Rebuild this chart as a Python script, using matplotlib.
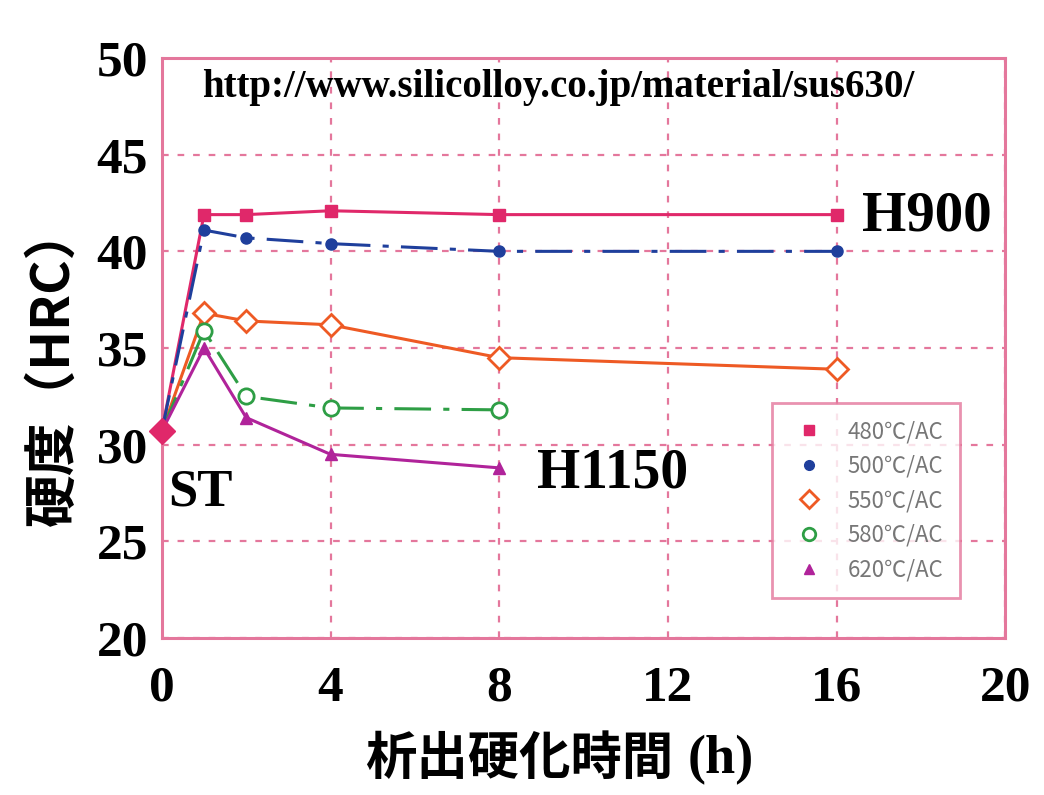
import matplotlib
matplotlib.use("Agg")
import matplotlib.pyplot as plt
from matplotlib.lines import Line2D

plt.rcParams['font.family'] = ['Liberation Serif', 'Noto Sans CJK JP', 'DejaVu Sans']

# Precipitation-hardening hardness data for SUS630
hours = [0, 1, 2, 4, 8, 16]
hours_short = [0, 1, 2, 4, 8]
st_hardness = 30.7
hrc_480 = [30.7, 41.9, 41.9, 42.1, 41.9, 41.9]
hrc_500 = [30.7, 41.1, 40.7, 40.4, 40.0, 40.0]
hrc_550 = [30.7, 36.8, 36.4, 36.2, 34.5, 33.9]
hrc_580 = [30.7, 35.9, 32.5, 31.9, 31.8]
hrc_620 = [30.7, 35.0, 31.4, 29.5, 28.8]
labels = ["480℃/AC", "500℃/AC", "550℃/AC", "580℃/AC", "620℃/AC"]
x_ticks = [0, 4, 8, 12, 16, 20]
y_ticks = [20, 25, 30, 35, 40, 45, 50]

pink = "#e4779c"
c480 = "#e0286a"
c500 = "#1f3f9c"
c550 = "#ee5a24"
c580 = "#2e9e45"
c620 = "#b0239a"

fig = plt.figure(figsize=(10.44, 7.95), dpi=100)
ax = fig.add_axes([0.155, 0.1975, 0.808, 0.7295])

dashdot = (0, (12, 4, 2, 4))
ax.plot(hours, hrc_480, color=c480, lw=2.2, marker='s', ms=8, markevery=slice(1, None), zorder=5)
ax.plot(hours, hrc_500, color=c500, lw=2.2, ls=dashdot, marker='o', ms=8,
        markevery=slice(1, None), zorder=5)
ax.plot(hours, hrc_550, color=c550, lw=2.2, marker='D', ms=11, mfc='white', mew=2,
        markevery=slice(1, None), zorder=4)
ax.plot(hours_short, hrc_580, color=c580, lw=2.2, ls=dashdot, marker='o', ms=11,
        mfc='white', mew=2, markevery=slice(1, None), zorder=4)
ax.plot(hours_short, hrc_620, color=c620, lw=2.2, marker='^', ms=9,
        markevery=slice(1, None), zorder=4)
ax.plot([hours[0]], [st_hardness], marker='D', ms=13, color=c480, ls='none', zorder=6,
        clip_on=False)

ax.set_xlim(0, 20)
ax.set_ylim(20, 50)
ax.set_xticks(x_ticks)
ax.set_yticks(y_ticks)
ax.grid(True, color=pink, ls=(0, (3, 4)), lw=1.6)
for s in ax.spines.values():
    s.set_color(pink)
    s.set_linewidth(2.2)
ax.tick_params(length=0, labelsize=37, pad=10)
for t in ax.get_xticklabels() + ax.get_yticklabels():
    t.set_fontweight('bold')
ax.tick_params(axis='x', pad=20)

ax.text(0.95, 48.5, "http://www.silicolloy.co.jp/material/sus630/", fontsize=28,
        fontweight='bold', va='center', ha='left')
ax.text(16.6, 41.8, "H900", fontsize=41, fontweight='bold', va='center', ha='left')
ax.text(8.9, 28.5, "H1150", fontsize=40, fontweight='bold', va='center', ha='left')
ax.text(0.15, 27.5, "ST", fontsize=38, fontweight='bold', va='center', ha='left')

handles = [
    Line2D([], [], ls='none', marker='s', color=c480, ms=7),
    Line2D([], [], ls='none', marker='o', color=c500, ms=7),
    Line2D([], [], ls='none', marker='D', color=c550, mfc='white', mew=2, ms=9),
    Line2D([], [], ls='none', marker='o', color=c580, mfc='white', mew=2, ms=9),
    Line2D([], [], ls='none', marker='^', color=c620, ms=7),
]
leg = ax.legend(handles, labels, loc='lower right', bbox_to_anchor=(0.946, 0.069),
                prop={'family': 'Noto Sans CJK JP', 'size': 16}, labelcolor='#777777',
                frameon=True, fancybox=False, borderpad=0.75, labelspacing=0.52,
                handlelength=1.85, handletextpad=0.8, borderaxespad=0)
leg.get_frame().set_edgecolor(pink)
leg.get_frame().set_linewidth(2)

fig.text(0.645, 0.046, "析出硬化時間", fontsize=37, fontweight='bold',
         family=['Noto Sans CJK JP'], ha='right', va='center')
fig.text(0.659, 0.044, "(h)", fontsize=39, fontweight='bold', ha='left', va='center')
fig.text(0.051, 0.54, "硬度（HRC）", fontsize=38, fontweight='bold', rotation=90,
         family=['Noto Sans CJK JP'], ha='center', va='center')

fig.savefig("out.png", dpi=100)
